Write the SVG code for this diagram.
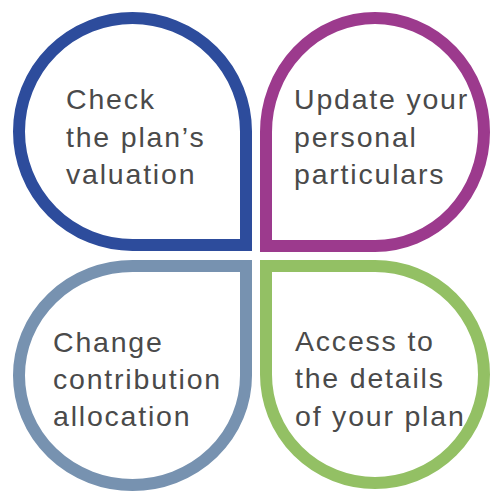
<svg xmlns="http://www.w3.org/2000/svg" width="490" height="495" viewBox="0 0 490 495">
<style>
.petal{fill:#fff;stroke-width:12;stroke-linejoin:miter}
.lbl{font-family:"Liberation Sans",Arial,sans-serif;font-size:28.5px;letter-spacing:1.8px;fill:#4a4a4a}
</style>
<rect width="490" height="495" fill="#fff"/>
<g id="node-valuation">
<path class="petal" stroke="#2D4C9C" d="M 246 131.5 A 113.5 113.5 0 1 0 132.5 245 L 246 245 Z"/>
<text class="lbl" x="66" y="109">Check</text>
<text class="lbl" x="66" y="147">the plan’s</text>
<text class="lbl" x="66" y="184">valuation</text>
</g>
<g id="node-particulars">
<path class="petal" stroke="#9C3A8D" d="M 375 246 A 109 114 0 1 0 266 132 L 266 246 Z"/>
<text class="lbl" x="294" y="109">Update your</text>
<text class="lbl" x="294" y="147">personal</text>
<text class="lbl" x="294" y="184">particulars</text>
</g>
<g id="node-allocation">
<path class="petal" stroke="#7792B0" d="M 132.5 266 A 113.5 109.5 0 1 0 246 375.5 L 246 266 Z"/>
<text class="lbl" x="53" y="352">Change</text>
<text class="lbl" x="53" y="389">contribution</text>
<text class="lbl" x="53" y="426">allocation</text>
</g>
<g id="node-details">
<path class="petal" stroke="#93C064" d="M 266 374.5 A 109 108.5 0 1 0 375 266 L 266 266 Z"/>
<text class="lbl" x="295" y="351">Access to</text>
<text class="lbl" x="295" y="388">the details</text>
<text class="lbl" x="295" y="426">of your plan</text>
</g>
<g id="connectors"></g>
</svg>
